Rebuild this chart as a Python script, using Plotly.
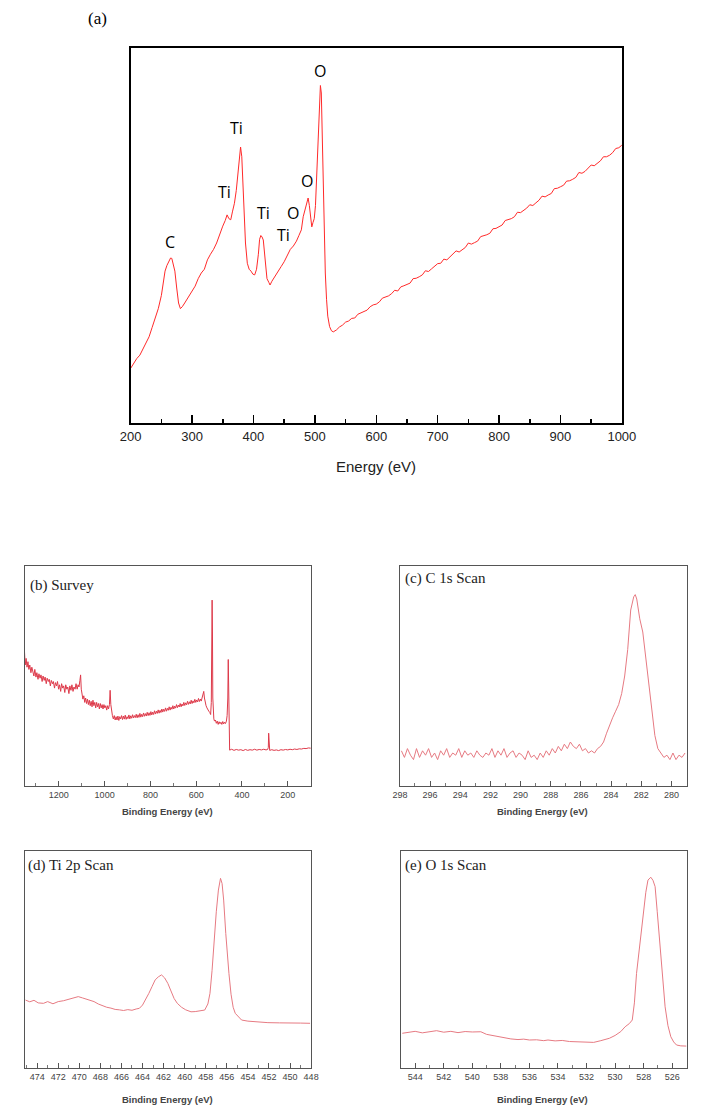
import plotly.graph_objects as go

W, H = 715, 1108

# ---------------- (a) energy spectrum ----------------
a_energy = [200, 205, 210, 215, 220, 225, 230, 235, 240, 245, 250, 253, 256, 259, 262, 265, 267, 269, 272, 275,
            278, 281, 284, 288, 292, 296, 300, 305, 310, 315, 320, 325, 330, 335, 340, 345, 350, 354, 357, 360,
            363, 366, 369, 372, 375, 377, 379, 381, 383, 385, 387, 390, 393, 396, 399, 402, 405, 408, 410, 412,
            414, 416, 418, 420, 422, 425, 427, 430, 435, 440, 445, 450, 455, 460, 465, 470, 474, 478, 481, 484,
            487, 489, 491, 493, 495, 497, 499, 501, 503, 505, 507, 509, 510.5, 512, 513, 515, 517, 519, 521, 524,
            527, 530, 535, 540, 545, 550, 555, 560, 565, 570, 575, 580, 585, 590, 595, 600, 605, 610, 615, 620,
            625, 630, 635, 640, 645, 650, 655, 660, 665, 670, 675, 680, 685, 690, 695, 700, 705, 710, 715, 720,
            725, 730, 735, 740, 745, 750, 755, 760, 765, 770, 775, 780, 785, 790, 795, 800, 805, 810, 815, 820,
            825, 830, 835, 840, 845, 850, 855, 860, 865, 870, 875, 880, 885, 890, 895, 900, 905, 910, 915, 920,
            925, 930, 935, 940, 945, 950, 955, 960, 965, 970, 975, 980, 985, 990, 995, 1000]
a_counts = [14.6, 16.0, 17.2, 18.1, 19.8, 21.3, 23.0, 25.5, 28.0, 30.5, 34.0, 37.0, 40.5, 42.0, 43.0, 44.0, 43.9, 42.5, 40.5, 36.0,
            32.0, 30.5, 31.0, 32.0, 33.0, 34.0, 35.2, 36.5, 38.5, 40.0, 41.0, 43.5, 45.0, 46.3, 48.0, 50.5, 52.5, 54.0, 55.5, 54.5,
            54.2, 56.5, 58.6, 62.0, 67.0, 71.0, 73.6, 71.0, 63.0, 55.0, 48.0, 42.6, 41.0, 40.5, 39.7, 39.5, 41.0, 45.0, 49.0, 50.0,
            49.6, 48.8, 45.0, 41.0, 38.5, 37.5, 36.8, 37.8, 39.0, 40.5, 41.7, 43.0, 44.5, 46.3, 47.2, 48.5, 50.0, 51.5, 55.0, 57.0,
            59.0, 60.0, 58.0, 54.5, 52.3, 53.5, 54.5, 58.0, 66.0, 78.0, 86.0, 90.0, 88.0, 76.0, 64.0, 50.0, 40.0, 33.0, 28.5, 25.7,
            24.6, 24.3, 24.8, 25.6, 26.1, 26.9, 27.2, 27.9, 28.0, 29.0, 29.4, 29.6, 30.1, 31.0, 31.5, 31.7, 32.3, 33.3, 33.6, 33.9,
            34.5, 35.4, 35.2, 36.3, 36.6, 36.9, 37.3, 38.5, 38.6, 39.0, 39.5, 40.6, 40.4, 41.1, 41.8, 42.5, 42.6, 43.7, 43.5, 44.3,
            44.9, 45.9, 45.6, 46.2, 46.8, 48.0, 47.7, 48.1, 48.5, 49.7, 49.9, 50.2, 50.6, 51.8, 51.9, 52.3, 52.8, 54.0, 54.2, 54.5,
            55.0, 56.2, 56.1, 56.6, 57.3, 58.2, 58.0, 58.7, 59.4, 60.5, 60.3, 60.8, 61.2, 62.5, 62.6, 63.0, 63.4, 64.5, 64.6, 65.0,
            65.5, 66.8, 66.6, 67.1, 67.9, 68.8, 68.6, 69.2, 69.9, 71.0, 71.0, 71.4, 72.1, 73.2, 73.4, 74.1]
a_peak_labels = ["C", "Ti", "Ti", "Ti", "Ti", "O", "O", "O"]
a_peak_x = [264.4, 353.6, 372.9, 416.4, 448.3, 465.2, 487.2, 508.0]
a_peak_y = [48.3, 61.7, 78.7, 55.9, 50.1, 55.9, 64.6, 93.9]
a_ticks = [200, 300, 400, 500, 600, 700, 800, 900, 1000]

# ---------------- (b) survey ----------------
b_be = [1350, 1347, 1343, 1339, 1335, 1331, 1327, 1322, 1318, 1314,
        1309, 1305, 1300, 1296, 1291, 1287, 1282, 1278, 1273, 1269,
        1264, 1260, 1255, 1251, 1246, 1242, 1237, 1233, 1228, 1224,
        1219, 1215, 1210, 1206, 1201, 1197, 1192, 1188, 1183, 1179,
        1174, 1170, 1165, 1161, 1156, 1152, 1147, 1143, 1138, 1134,
        1129, 1125, 1120, 1116, 1112, 1108, 1105, 1102, 1099, 1095,
        1091, 1087, 1083, 1079, 1075, 1071, 1067, 1063, 1059, 1055,
        1051, 1047, 1043, 1039, 1035, 1031, 1027, 1023, 1019, 1015,
        1011, 1007, 1003, 999, 995, 991, 987, 983, 979, 976,
        973, 970, 966, 962, 958, 954, 950, 946, 942, 938,
        934, 930, 926, 922, 918, 914, 910, 906, 902, 898,
        894, 890, 886, 882, 878, 874, 870, 866, 862, 858,
        854, 850, 846, 842, 838, 834, 830, 826, 822, 818,
        814, 810, 806, 802, 798, 794, 790, 786, 782, 778,
        774, 770, 766, 762, 758, 754, 750, 746, 742, 738,
        734, 730, 726, 722, 718, 714, 710, 706, 702, 698,
        694, 690, 686, 682, 678, 674, 670, 666, 662, 658,
        654, 650, 646, 642, 638, 634, 630, 626, 622, 618,
        614, 610, 606, 602, 598, 594, 590, 586, 582, 578,
        574, 570, 567, 564, 561, 557, 553, 549, 545, 541,
        537, 534, 532, 530.5, 529, 527.5, 526, 523, 520, 516,
        512, 508, 504, 500, 496, 492, 488, 484, 480, 476,
        472, 468, 465, 462, 460, 458.5, 457, 455.5, 454, 445,
        435, 425, 415, 405, 395, 385, 375, 365, 355, 345,
        335, 325, 315, 305, 295, 288, 285, 283.5, 282, 279,
        270, 260, 250, 240, 230, 220, 210, 200, 190, 180,
        170, 160, 150, 140, 130, 120, 110, 100]
b_counts = [61, 55, 58, 54, 56.5, 53, 55, 51.5, 54, 52,
            50, 53, 49.5, 51.5, 48.5, 51, 49, 50.5, 47.5, 50,
            48, 49.5, 46.5, 49, 47.5, 48.5, 45.5, 48, 46.5, 47.5,
            44.5, 47, 45.5, 47.5, 44, 46, 43, 46.5, 44.5, 45.5,
            42.5, 46, 44, 45, 42, 45.5, 43.5, 46, 43, 45,
            44, 46.5, 44, 46, 45, 48, 50.5, 44, 41, 39.5,
            41, 38, 40, 37.5, 39.5, 37, 39, 36.5, 38.5, 36,
            39, 36.5, 38, 35.5, 38, 36, 37.5, 35, 37.5, 35.5,
            37, 35, 37, 35.5, 36.5, 34.5, 36.5, 35, 37, 43.5,
            37, 33.5, 32, 30.5, 32, 30, 31.5, 30, 31.8, 29.8,
            31.5, 30.5, 32, 30.2, 31.8, 30.4, 32.2, 30.3, 31.5, 30.6,
            32.3, 30.5, 31.9, 30.8, 32.4, 30.9, 32, 31.1, 32.6, 31,
            32.4, 31.2, 33, 31.3, 32.6, 31.5, 33.2, 31.7, 32.9, 31.8,
            33.5, 32, 33.3, 32.1, 33.8, 32.3, 33.6, 32.5, 34.2, 32.7,
            34, 33, 34.6, 33.1, 34.4, 33.4, 35, 33.6, 34.9, 33.9,
            35.5, 34, 35.3, 34.4, 36, 34.5, 35.8, 34.9, 36.5, 35,
            36.3, 35.4, 37, 35.6, 36.8, 35.9, 37.5, 36, 37.3, 36.4,
            38, 36.6, 37.8, 36.9, 38.5, 37.1, 38.3, 37.3, 39, 37.5,
            38.7, 37.8, 39.4, 38, 39.1, 38.2, 39.8, 38.4, 39.5, 38.6,
            40, 41.5, 43, 40, 37.5, 36.5, 35.5, 34.5, 34, 33.5,
            32.5, 38, 60, 84.5, 70, 40, 33, 30.5, 29.5, 30,
            28.5, 29.5, 28, 29.2, 28.3, 29, 28, 29.3, 28.2, 29,
            28.4, 29.5, 32, 40, 57.5, 45, 30, 17.5, 16.3, 16.7,
            16.2, 16.6, 16.3, 16.5, 16.1, 16.6, 16.2, 16.5, 16.3, 16.7,
            16.3, 16.6, 16.4, 16.7, 16.4, 16.6, 17.5, 24, 18, 16.2,
            16.5, 16.2, 16.4, 16.1, 16.5, 16.3, 16.6, 16.4, 16.7, 16.5,
            16.8, 16.6, 16.9, 16.8, 17.1, 17.0, 17.3, 17.2]

# ---------------- (c) C 1s ----------------
c_be = [297.9, 297.7, 297.5, 297.3, 297.1, 296.9, 296.7, 296.5, 296.3, 296.1, 295.9, 295.7, 295.5, 295.3, 295.1,
        294.9, 294.7, 294.5, 294.3, 294.1, 293.9, 293.7, 293.5, 293.3, 293.1, 292.9, 292.7, 292.5, 292.3, 292.1,
        291.9, 291.7, 291.5, 291.3, 291.1, 290.9, 290.7, 290.5, 290.3, 290.1, 289.9, 289.7, 289.5, 289.3, 289.1,
        288.9, 288.7, 288.5, 288.3, 288.1, 287.9, 287.7, 287.5, 287.3, 287.1, 286.9, 286.7, 286.5, 286.3, 286.1,
        285.9, 285.7, 285.5, 285.3, 285.1, 284.9, 284.7, 284.5, 284.3, 284.1, 283.9, 283.7, 283.5, 283.3, 283.1,
        282.9, 282.7, 282.5, 282.4, 282.3, 282.1, 281.9, 281.7, 281.5, 281.3, 281.1, 280.9, 280.7, 280.5, 280.3,
        280.1, 279.9, 279.7, 279.5, 279.3, 279.1]
c_counts = [16, 13, 17, 14, 12, 17, 13, 16, 14, 17, 13, 15, 12, 16, 14,
            17, 13, 15, 14, 17, 13, 16, 14, 15, 13, 16, 14, 13, 15, 14,
            17, 13, 16, 14, 17, 13, 15, 16, 13, 15, 14, 12, 16, 13, 14,
            12, 15, 13, 16, 14, 17, 15, 18, 16, 19, 17, 20, 18, 17, 19,
            16, 17, 15, 16, 15, 17, 18, 20, 24, 28, 31, 34, 37, 42, 50,
            62, 80, 86, 87, 85, 76, 70, 58, 45, 33, 23, 17, 15, 13, 14,
            12, 15, 12, 14, 13, 15]

# ---------------- (d) Ti 2p ----------------
d_be = [475.1, 474.7, 474.3, 473.9, 473.4, 473.0, 472.5, 472.0, 471.5, 471.0, 470.5, 470.1, 469.7, 469.3, 468.9,
        468.6, 468.2, 467.8, 467.4, 467.0, 466.6, 466.2, 465.8, 465.4, 465.0, 464.6, 464.3, 464.0, 463.7, 463.4,
        463.1, 462.8, 462.5, 462.2, 461.9, 461.6, 461.3, 461.0, 460.7, 460.3, 459.9, 459.4, 459.0, 458.6, 458.1,
        457.8, 457.6, 457.4, 457.2, 457.0, 456.8, 456.6, 456.45, 456.3, 456.1, 455.95, 455.8, 455.6, 455.4, 455.2,
        454.9, 454.6, 454.0, 453.0, 452.1, 451.0, 450.0, 449.0, 448.1]
d_counts = [31.3, 30.5, 31.2, 30.0, 29.8, 30.6, 29.6, 30.6, 31.0, 31.8, 32.5, 32.9, 32.3, 31.8, 31.0,
            30.6, 29.5, 28.7, 28.0, 27.6, 27.0, 26.8, 26.5, 26.9, 26.6, 27.2, 27.5, 29.0, 31.5, 34.4,
            37.5, 40.6, 42.0, 42.9, 41.5, 39.0, 35.5, 32.0, 29.8, 28.0, 26.8, 25.9, 26.0, 26.3, 26.7,
            29.5, 34.4, 45.0, 59.0, 72.0, 82.0, 87.4, 85.0, 77.4, 62.0, 50.0, 43.6, 34.0, 28.0, 25.2,
            23.5, 22.1, 21.6, 21.1, 20.9, 20.8, 20.6, 20.7, 20.6]

# ---------------- (e) O 1s ----------------
e_be = [544.9, 544.4, 544.0, 543.5, 543.0, 542.5, 542.0, 541.5, 541.0, 540.5, 540.0, 539.4, 539.0, 538.6, 538.2,
        537.8, 537.3, 536.8, 536.4, 536.0, 535.5, 535.0, 534.7, 534.2, 533.7, 533.2, 532.6, 532.0, 531.5, 531.0,
        530.4, 530.0, 529.6, 529.3, 529.0, 528.8, 528.65, 528.5, 528.25, 528.0, 527.85, 527.7, 527.5, 527.35, 527.2,
        527.05, 526.9, 526.7, 526.5, 526.3, 526.1, 525.9, 525.7, 525.4, 525.0]
e_counts = [16.0, 16.4, 16.9, 16.2, 16.7, 17.2, 16.5, 16.9, 16.3, 16.8, 16.6, 16.7, 15.5, 15.0, 14.2,
            13.7, 13.4, 13.1, 13.3, 12.9, 13.0, 12.6, 12.9, 12.5, 12.7, 12.2, 12.1, 11.9, 11.8, 12.6,
            13.7, 15.0, 16.8, 19.0, 20.5, 22.1, 30.0, 43.6, 59.0, 74.3, 81.0, 86.6, 87.9, 86.5, 83.6,
            72.0, 59.0, 42.0, 28.2, 19.5, 14.4, 12.0, 10.6, 10.2, 10.1]

panel_titles = ["(b) Survey", "(c) C 1s Scan", "(d) Ti 2p Scan", "(e) O 1s Scan"]


def dom_x(l, r):
    return [l / W, r / W]


def dom_y(top, bottom):
    return [1 - bottom / H, 1 - top / H]


fig = go.Figure()

fig.add_trace(go.Scatter(x=a_energy, y=a_counts, mode="lines",
                         line=dict(color="#ff2a2a", width=1), xaxis="x", yaxis="y"))
fig.add_trace(go.Scatter(x=b_be, y=b_counts, mode="lines",
                         line=dict(color="#dd3a4a", width=1), xaxis="x2", yaxis="y2"))
fig.add_trace(go.Scatter(x=c_be, y=c_counts, mode="lines",
                         line=dict(color="#e67a82", width=1), xaxis="x3", yaxis="y3"))
fig.add_trace(go.Scatter(x=d_be, y=d_counts, mode="lines",
                         line=dict(color="#e67a82", width=1), xaxis="x4", yaxis="y4"))
fig.add_trace(go.Scatter(x=e_be, y=e_counts, mode="lines",
                         line=dict(color="#e67a82", width=1), xaxis="x5", yaxis="y5"))

small_font = dict(family="Liberation Sans, Arial", size=9, color="#444")


def lower_x(domain, rng, dtick, anchor):
    return dict(domain=domain, range=rng, anchor=anchor, showgrid=False, zeroline=False,
                showline=True, mirror=True, linecolor="#555", linewidth=1,
                ticks="inside", ticklen=5, tickcolor="#555", dtick=dtick, tick0=0,
                minor=dict(dtick=dtick / 2, ticks="inside", ticklen=3, tickcolor="#777"),
                tickfont=small_font)


def lower_y(domain, anchor):
    return dict(domain=domain, range=[0, 100], anchor=anchor, showgrid=False, zeroline=False,
                showline=True, mirror=True, linecolor="#555", linewidth=1,
                ticks="", showticklabels=False)


layout = dict(
    width=W, height=H, margin=dict(l=0, r=0, t=0, b=0),
    paper_bgcolor="white", plot_bgcolor="white", showlegend=False, hovermode=False,
    xaxis=dict(domain=dom_x(124, 633), range=[200, 1000], anchor="y", showgrid=False, zeroline=False,
               showline=True, mirror=True, linecolor="black", linewidth=2,
               ticks="inside", ticklen=8, tickcolor="black", tickwidth=1.5,
               tickvals=a_ticks,
               minor=dict(dtick=50, tick0=0, ticks="inside", ticklen=4, tickcolor="black"),
               tickfont=dict(family="Liberation Sans, Arial", size=13, color="#222")),
    yaxis=dict(domain=dom_y(48, 423), range=[0, 100], anchor="x", showgrid=False, zeroline=False,
               showline=True, mirror=True, linecolor="black", linewidth=2,
               ticks="", showticklabels=False),
    xaxis2=lower_x(dom_x(14, 311), [1350, 98], 200, "y2"),
    yaxis2=lower_y(dom_y(566, 786), "x2"),
    xaxis3=lower_x(dom_x(403, 700), [298, 279], 2, "y3"),
    yaxis3=lower_y(dom_y(566, 786), "x3"),
    xaxis4=lower_x(dom_x(14, 311), [475.2, 448], 2, "y4"),
    yaxis4=lower_y(dom_y(851, 1068), "x4"),
    xaxis5=lower_x(dom_x(404, 700), [545, 525], 2, "y5"),
    yaxis5=lower_y(dom_y(851, 1068), "x5"),
)
fig.update_layout(**layout)

ann = []
for lab, x, y in zip(a_peak_labels, a_peak_x, a_peak_y):
    ann.append(dict(x=x, y=y, xref="x", yref="y", text=lab, showarrow=False,
                    font=dict(family="Open Sans, Noto Sans", size=16, color="black"),
                    xanchor="center", yanchor="middle"))

ann.append(dict(x=90 / W, y=1 - 18 / H, xref="paper", yref="paper", text="(a)", showarrow=False,
                font=dict(family="Liberation Serif, Times New Roman", size=17, color="black"),
                xanchor="center", yanchor="middle"))
ann.append(dict(x=378 / W, y=1 - 466 / H, xref="paper", yref="paper", text="Energy (eV)", showarrow=False,
                font=dict(family="Liberation Sans, Arial", size=15, color="#222"),
                xanchor="center", yanchor="middle"))

title_pos = [(18, 585), (406, 578), (16, 865), (406, 865)]
for t, (px, py) in zip(panel_titles, title_pos):
    ann.append(dict(x=px / W, y=1 - py / H, xref="paper", yref="paper", text=t, showarrow=False,
                    font=dict(family="Liberation Serif, Times New Roman", size=15, color="#222"),
                    xanchor="left", yanchor="middle"))

xlabel_pos = [(162, 811), (551, 811), (162, 1099), (551, 1099)]
for (px, py) in xlabel_pos:
    ann.append(dict(x=px / W, y=1 - py / H, xref="paper", yref="paper", text="<b>Binding Energy (eV)</b>",
                    showarrow=False, font=dict(family="Liberation Sans, Arial", size=9.5, color="#444"),
                    xanchor="center", yanchor="middle"))

fig.update_layout(annotations=ann)
fig.write_html("out.html",
               config={"displayModeBar": False, "staticPlot": True},
               post_script="document.body.style.margin='0px';document.body.style.padding='0px';"
                           "document.body.style.overflow='hidden';")
